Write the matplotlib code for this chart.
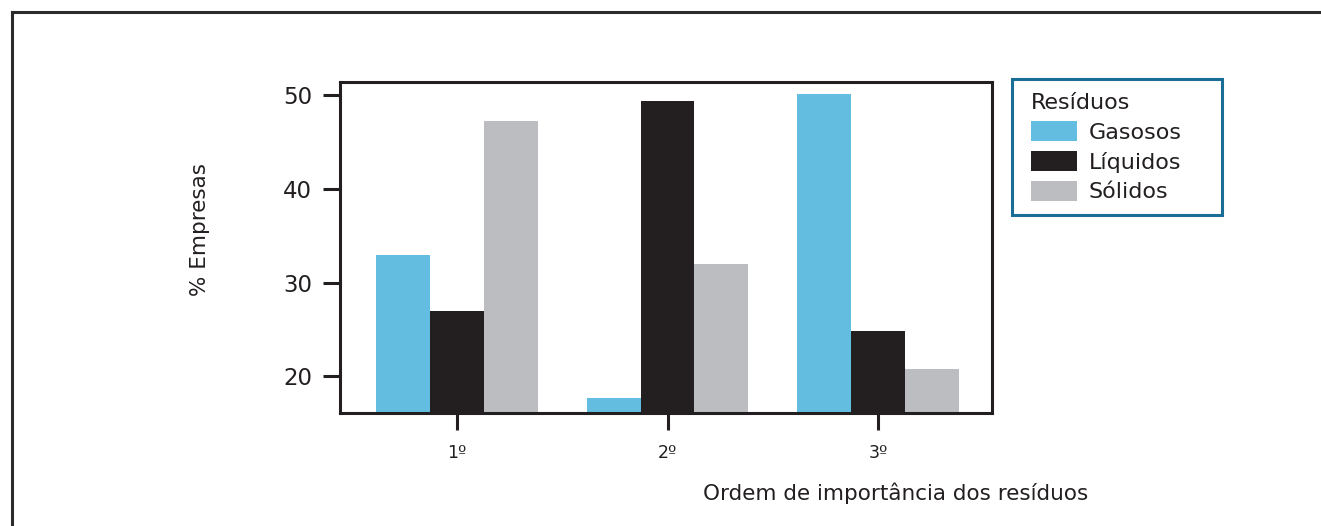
import matplotlib
matplotlib.use("Agg")
import numpy as np
from matplotlib import pyplot as plt
from matplotlib.lines import Line2D
from matplotlib.patches import Rectangle

# % de empresas por ordem de importância de cada tipo de resíduo
categorias = ['1º', '2º', '3º']
gasosos = [32.9, 17.7, 50.1]
liquidos = [27.0, 49.3, 24.8]
solidos = [47.2, 32.0, 20.8]

series = [('Gasosos', gasosos, '#63bde0'),
          ('Líquidos', liquidos, '#231f20'),
          ('Sólidos', solidos, '#bcbdc0')]

txt = '#231f20'
plt.rcParams['font.family'] = ['DejaVu Sans']
plt.rcParams['text.color'] = txt

fig = plt.figure(figsize=(13.21, 5.26), dpi=100)
ax = fig.add_axes([0.2574, 0.2148, 0.4936, 0.6292])

x = np.arange(len(categorias))
w = 0.256
base = 16.1
for i, (nome, vals, cor) in enumerate(series):
    alturas = [v - base for v in vals]
    ax.bar(x + (i - 1) * w, alturas, w, bottom=base, color=cor, label=nome,
           linewidth=0)

ax.set_xlim(-0.555, 2.541)
ax.set_ylim(base, 51.35)
ax.set_yticks([20, 30, 40, 50])
ax.set_xticks(x)
ax.set_xticklabels(categorias, fontsize=12.5, color=txt)
for lab in ax.get_yticklabels():
    lab.set_fontsize(16.5)
    lab.set_color(txt)
ax.tick_params(axis='y', length=12, width=2.2, color=txt, pad=8)
ax.tick_params(axis='x', length=12, width=2.2, color=txt, pad=10)
for s in ax.spines.values():
    s.set_linewidth(2.2)
    s.set_color(txt)

fig.text(0.1515, 0.563, '% Empresas', rotation=90, ha='center', va='center',
         fontsize=15.5, color=txt)
fig.text(0.678, 0.063, 'Ordem de importância dos resíduos', ha='center',
         va='center', fontsize=15.5, color=txt)

leg = ax.legend(title='Resíduos', loc='upper left',
                bbox_to_anchor=(1031 / 1321, 1 - 93 / 526),
                bbox_transform=fig.transFigure, frameon=False, fontsize=16,
                title_fontsize=16, handlelength=2.05, handleheight=1.0,
                labelspacing=0.37, borderpad=0, handletextpad=0.55,
                borderaxespad=0, alignment='left')

# caixa da legenda
fig.add_artist(Rectangle((1012 / 1321, 1 - 215 / 526), 210 / 1321, 136 / 526,
                         transform=fig.transFigure, fill=False,
                         edgecolor='#1a6d94', linewidth=2.2))

# moldura externa (só esquerda e topo)
fy = 1 - 12 / 526
fx = 12 / 1321
fig.add_artist(Line2D([fx, fx], [0, fy], transform=fig.transFigure,
                      color='#2b2b2b', linewidth=2.2))
fig.add_artist(Line2D([fx, 1], [fy, fy], transform=fig.transFigure,
                      color='#2b2b2b', linewidth=2.2))

fig.savefig('out.png', dpi=100)
